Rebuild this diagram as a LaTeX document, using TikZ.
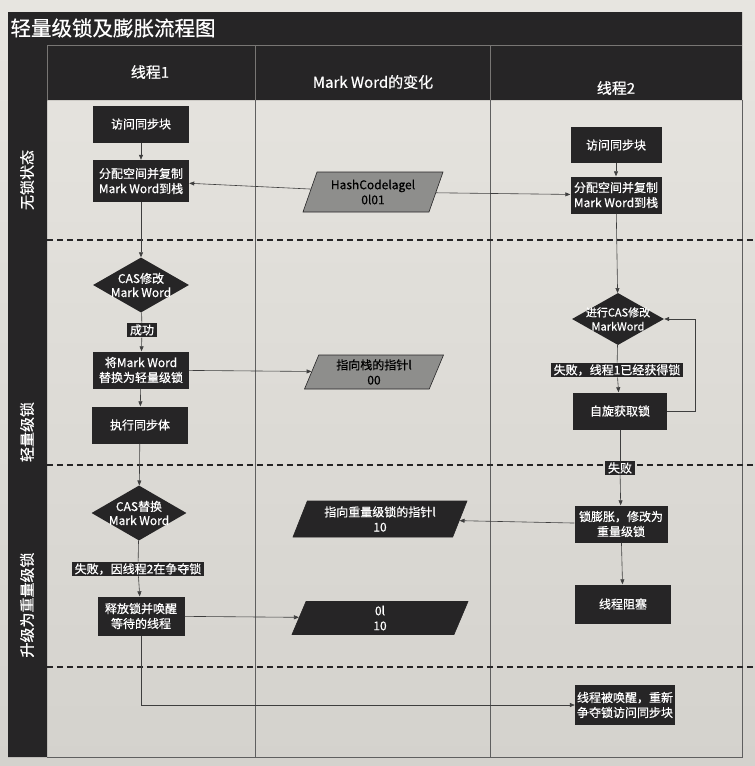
\documentclass[tikz,border=0pt]{standalone}
\usepackage{fontspec}
\newfontfamily\cjk{Noto Sans CJK SC}[FakeBold=0.6]
\usetikzlibrary{shapes.geometric,arrows.meta}
\definecolor{pagetop}{RGB}{231,229,224}
\definecolor{pagebottom}{RGB}{212,210,205}
\definecolor{ink}{RGB}{38,37,38}
\definecolor{wire}{RGB}{62,62,62}
\definecolor{slate}{RGB}{142,142,140}
\definecolor{rule}{RGB}{95,95,95}
\definecolor{seam}{RGB}{120,118,116}
\begin{document}
\begin{tikzpicture}[x=1pt,y=-1pt,
  every node/.style={font=\cjk\fontsize{12}{15}\selectfont},
  blk/.style={rectangle, fill=ink, text=white, align=center, inner sep=2pt,
    minimum width=96pt, minimum height=37pt},
  tag/.style={rectangle, fill=ink, text=white, inner xsep=3pt, inner ysep=1.5pt},
  choice/.style={diamond, fill=ink, inner sep=0pt, minimum width=96pt, minimum height=55pt},
  inside/.style={text=white, align=center, font=\cjk\fontsize{12}{14}\selectfont},
  slant/.style={trapezium, trapezium left angle=64, trapezium right angle=116,
    trapezium stretches body, draw=ink, line width=0.6pt, align=center, inner sep=2pt,
    font=\cjk\fontsize{12}{15}\selectfont},
  greyslant/.style={slant, fill=slate, text=black},
  darkslant/.style={slant, fill=ink, text=white},
  flow/.style={draw=wire, line width=0.6pt, -{Triangle[length=5pt,width=4pt]}},
  plain/.style={draw=wire, line width=0.6pt},
  zone/.style={draw=ink, line width=1.8pt, dash pattern=on 6pt off 4pt},
  lane/.style={draw=rule, line width=0.7pt},
  banner/.style={text=white, font=\cjk\fontsize{15}{18}\selectfont}
]
% paper, slightly darker towards the bottom
\shade[top color=pagetop, bottom color=pagebottom] (0,0) rectangle (755,766);
\useasboundingbox (0,0) rectangle (755,766);
% frame: title band, header row and left stage strip
\path[fill=ink] (8,12) -- (742,12) -- (742,100) -- (47,100) -- (47,757) -- (8,757) -- cycle;
\draw[lane] (742,100) -- (742,757) -- (47,757);
\draw[seam, line width=0.6pt] (47,100) -- (47,45) -- (742,45);
\draw[seam, line width=0.6pt] (255,45) -- (255,100);
\draw[seam, line width=0.6pt] (490,45) -- (490,100);
\draw[lane] (255,100) -- (255,757);
\draw[lane] (490,100) -- (490,757);

% stage separators
\draw[zone] (47,240) -- (755,240);
\draw[zone] (47,465) -- (755,465);
\draw[zone] (47,667) -- (755,667);

% titles
\node[anchor=west, text=white, font=\cjk\fontsize{20.5}{24}\selectfont] (title) at (7,28) {轻量级锁及膨胀流程图};
\node[banner] (h1) at (150,72) {线程1};
\node[banner] (h2) at (373,82) {Mark Word的变化};
\node[banner] (h3) at (616,88) {线程2};
\node[banner, rotate=90] (s1) at (27,180) {无锁状态};
\node[banner, rotate=90] (s2) at (27,432) {轻量级锁};
\node[banner, rotate=90] (s3) at (27,605) {升级为重量级锁};

% thread 1
\node[blk] (a1) at (141,124) {访问同步块};
\node[blk, minimum height=42pt] (a2) at (141,181) {分配空间并复制\\Mark Word到栈};
\node[choice, label={[inside]center:CAS修改\\Mark Word}] (a3) at (141,285) {};
\node[tag] (a4) at (142,330) {成功};
\node[blk] (a5) at (141,370) {将Mark Word\\替换为轻量级锁};
\node[blk] (a6) at (140,425) {执行同步体};
\node[choice, minimum width=95pt, label={[inside]center:CAS替换\\Mark Word}] (a7) at (139,513) {};
\node[tag] (a8) at (138,569) {失败，因线程2在争夺锁};
\node[blk, minimum width=87pt, minimum height=39pt] (a9) at (141,616) {释放锁并唤醒\\等待的线程};

% mark word states
\node[greyslant, minimum width=140pt, minimum height=40pt] (m1) at (373,192) {HashCodelagel\\0l01};
\node[greyslant, minimum width=139pt, minimum height=34pt] (m2) at (374,372) {指向栈的指针l\\00};
\node[darkslant, minimum width=174pt, minimum height=36pt] (m3) at (380,519) {指向重量级锁的指针l\\10};
\node[darkslant, minimum width=176pt, minimum height=33pt] (m4) at (380,618) {0l\\10};

% thread 2
\node[blk, minimum width=91pt, minimum height=36pt] (b1) at (616,145) {访问同步块};
\node[blk, minimum width=91pt] (b2) at (616,195) {分配空间并复制\\Mark Word到栈};
\node[choice, minimum width=92pt, minimum height=52pt,
  label={[inside, font=\cjk\fontsize{11}{14}\selectfont]center:进行CAS修改\\MarkWord}] (b3) at (618,319) {};
\node[tag] (b4) at (617,370) {失败，线程1已经获得锁};
\node[blk, minimum width=94pt] (b5) at (620,411) {自旋获取锁};
\node[tag] (b6) at (620,468) {失败};
\node[blk, minimum width=93pt] (b7) at (621,524) {锁膨胀，修改为\\重量级锁};
\node[blk, minimum height=39pt] (b8) at (623,604) {线程阻塞};
\node[blk, minimum width=97pt, minimum height=40pt] (b9) at (625,705) {线程被唤醒，重新\\争夺锁访问同步块};

% thread 1 flow
\draw[flow] (a1) -- (a2);
\draw[flow] (a2) -- (a3);
\draw[plain] (a3) -- (a4);
\draw[flow] (a4) -- (a5);
\draw[flow] (a5) -- (a6);
\draw[flow] (a6) -- (a7);
\draw[plain] (a7) -- (a8);
\draw[flow] (a8) -- (a9);
\draw[flow] (a9) |- (b9);

% thread 2 flow
\draw[flow] (b1) -- (b2);
\draw[flow] (b2) -- (b3);
\draw[plain] (b3) -- (b4);
\draw[flow] (b4) -- (b5);
\draw[flow] (b5.east) -- ++(28,0) |- (b3.east);
\draw[plain] (b5) -- (b6);
\draw[flow] (b6) -- (b7);
\draw[flow] (b7) -- (b8);

% mark word updates
\draw[flow] (m1) -- (a2);
\draw[flow] (m1) -- (b2);
\draw[flow] (a5) -- (m2);
\draw[flow] (b7) -- (m3);
\draw[flow] (a9) -- (m4);
\end{tikzpicture}
\end{document}
